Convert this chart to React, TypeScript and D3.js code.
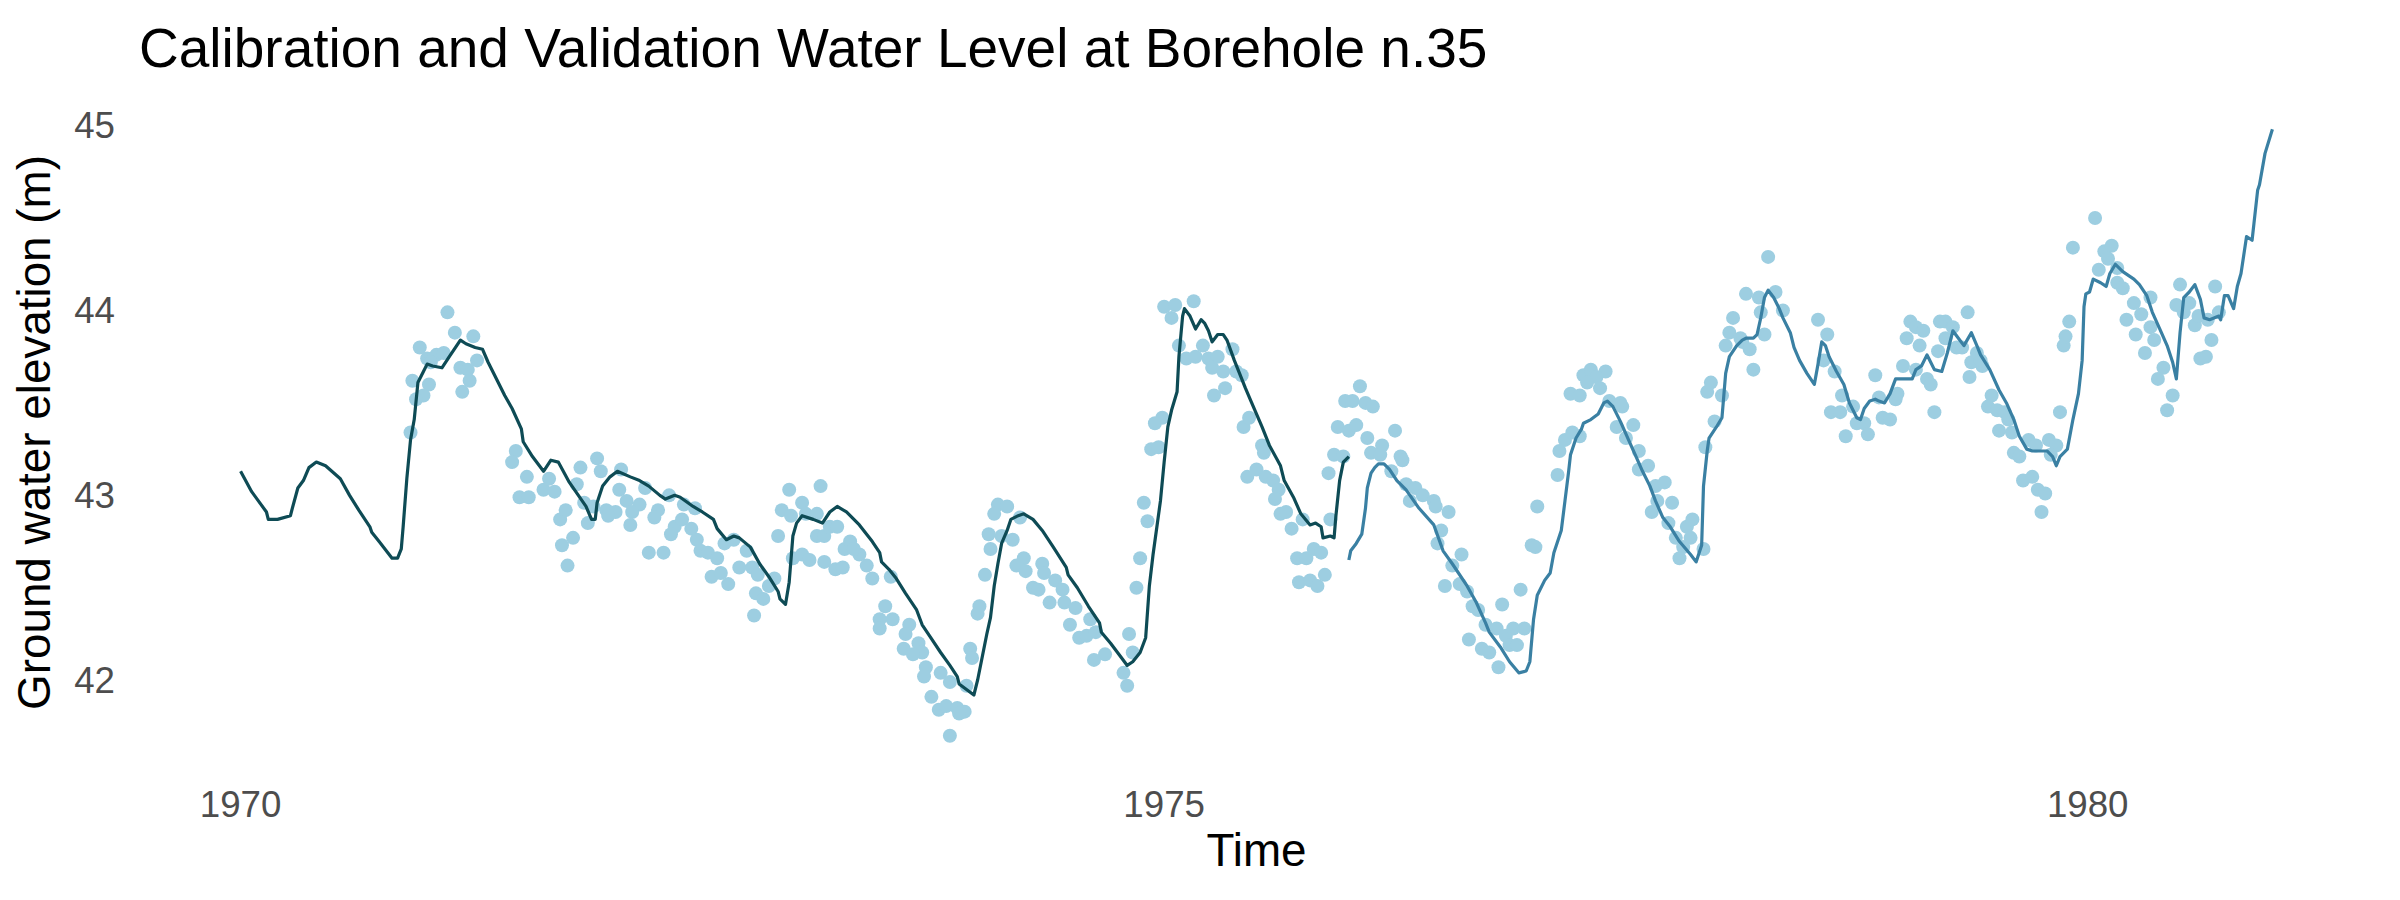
import { useEffect, useRef } from "react";
import * as d3 from "d3";

const WIDTH = 2400;
const HEIGHT = 900;

const TITLE = "Calibration and Validation Water Level at Borehole n.35";
const X_LABEL = "Time";
const Y_LABEL = "Ground water elevation (m)";
const X_TICKS = [1970, 1975, 1980];
const Y_TICKS = [42, 43, 44, 45];

// [decimal year, ground water elevation (m)]
const calibration: [number, number][] = [
	[1970.0, 43.13], [1970.06, 43.02], [1970.14, 42.91], [1970.15, 42.87], [1970.2, 42.87],
	[1970.27, 42.89], [1970.28, 42.93], [1970.31, 43.04], [1970.34, 43.08], [1970.37, 43.15],
	[1970.41, 43.18], [1970.46, 43.16], [1970.54, 43.09], [1970.59, 43.0], [1970.64, 42.92],
	[1970.7, 42.83], [1970.71, 42.8], [1970.75, 42.75], [1970.82, 42.66], [1970.85, 42.66],
	[1970.87, 42.71], [1970.88, 42.83], [1970.9, 43.09], [1970.92, 43.3], [1970.94, 43.41],
	[1970.96, 43.61], [1970.99, 43.67], [1971.01, 43.71], [1971.04, 43.7], [1971.09, 43.69],
	[1971.13, 43.75], [1971.17, 43.81], [1971.19, 43.84], [1971.22, 43.82], [1971.27, 43.8],
	[1971.31, 43.79], [1971.34, 43.72], [1971.38, 43.64], [1971.43, 43.54], [1971.47, 43.47],
	[1971.52, 43.36], [1971.53, 43.29], [1971.58, 43.21], [1971.64, 43.13], [1971.68, 43.19],
	[1971.72, 43.18], [1971.78, 43.07], [1971.87, 42.94], [1971.9, 42.87], [1971.92, 42.87],
	[1971.93, 42.96], [1971.96, 43.05], [1972.0, 43.1], [1972.04, 43.13], [1972.11, 43.1],
	[1972.16, 43.08], [1972.21, 43.05], [1972.27, 43.0], [1972.3, 42.98], [1972.35, 43.0],
	[1972.38, 42.99], [1972.45, 42.94], [1972.5, 42.91], [1972.56, 42.87], [1972.58, 42.82],
	[1972.63, 42.76], [1972.67, 42.78], [1972.7, 42.77], [1972.76, 42.72], [1972.81, 42.63],
	[1972.86, 42.56], [1972.91, 42.48], [1972.92, 42.44], [1972.95, 42.41], [1972.97, 42.53],
	[1972.99, 42.78], [1973.01, 42.85], [1973.04, 42.89], [1973.1, 42.87], [1973.15, 42.85],
	[1973.19, 42.91], [1973.23, 42.94], [1973.28, 42.91], [1973.35, 42.84], [1973.42, 42.75],
	[1973.46, 42.69], [1973.47, 42.64], [1973.51, 42.6], [1973.55, 42.55], [1973.6, 42.47],
	[1973.66, 42.38], [1973.69, 42.3], [1973.73, 42.24], [1973.79, 42.15], [1973.84, 42.08],
	[1973.88, 42.02], [1973.89, 41.98], [1973.93, 41.95], [1973.97, 41.92], [1973.99, 42.0],
	[1974.01, 42.1], [1974.04, 42.25], [1974.06, 42.34], [1974.08, 42.51], [1974.1, 42.63],
	[1974.12, 42.74], [1974.15, 42.81], [1974.17, 42.87], [1974.21, 42.89], [1974.24, 42.9],
	[1974.29, 42.87], [1974.34, 42.81], [1974.4, 42.72], [1974.47, 42.61], [1974.48, 42.57],
	[1974.53, 42.5], [1974.59, 42.4], [1974.65, 42.31], [1974.66, 42.26], [1974.71, 42.2],
	[1974.77, 42.12], [1974.8, 42.08], [1974.83, 42.1], [1974.87, 42.15], [1974.9, 42.23],
	[1974.92, 42.51], [1974.94, 42.68], [1974.98, 42.97], [1975.0, 43.18], [1975.02, 43.37],
	[1975.04, 43.46], [1975.07, 43.56], [1975.08, 43.75], [1975.1, 43.97], [1975.11, 44.01],
	[1975.14, 43.97], [1975.17, 43.9], [1975.2, 43.95], [1975.22, 43.93], [1975.24, 43.89],
	[1975.26, 43.83], [1975.29, 43.87], [1975.32, 43.87], [1975.34, 43.84], [1975.38, 43.73],
	[1975.44, 43.58], [1975.47, 43.51], [1975.53, 43.37], [1975.57, 43.27], [1975.63, 43.16],
	[1975.65, 43.08], [1975.7, 42.99], [1975.74, 42.9], [1975.79, 42.84], [1975.82, 42.85],
	[1975.85, 42.83], [1975.86, 42.77], [1975.9, 42.78], [1975.92, 42.77], [1975.93, 42.89],
	[1975.95, 43.08], [1975.97, 43.18], [1976.0, 43.21],
];

const validation: [number, number][] = [
	[1976.0, 42.65], [1976.01, 42.7], [1976.04, 42.74], [1976.07, 42.79], [1976.09, 42.93],
	[1976.1, 43.04], [1976.12, 43.12], [1976.14, 43.15], [1976.16, 43.17], [1976.19, 43.17],
	[1976.22, 43.14], [1976.26, 43.08], [1976.31, 43.03], [1976.38, 42.93], [1976.46, 42.84],
	[1976.51, 42.7], [1976.56, 42.63], [1976.64, 42.51], [1976.69, 42.42], [1976.74, 42.31],
	[1976.76, 42.26], [1976.82, 42.18], [1976.87, 42.1], [1976.92, 42.04], [1976.96, 42.05],
	[1976.98, 42.1], [1977.0, 42.33], [1977.02, 42.46], [1977.06, 42.54], [1977.09, 42.58],
	[1977.11, 42.69], [1977.15, 42.81], [1977.17, 42.97], [1977.19, 43.13], [1977.2, 43.22],
	[1977.23, 43.31], [1977.26, 43.36], [1977.27, 43.39], [1977.31, 43.41], [1977.35, 43.44],
	[1977.38, 43.5], [1977.4, 43.51], [1977.43, 43.48], [1977.47, 43.4], [1977.51, 43.31],
	[1977.55, 43.22], [1977.59, 43.13], [1977.63, 43.05], [1977.66, 42.97], [1977.7, 42.88],
	[1977.74, 42.83], [1977.79, 42.75], [1977.85, 42.68], [1977.88, 42.64], [1977.91, 42.73],
	[1977.92, 43.05], [1977.94, 43.24], [1977.95, 43.31], [1977.99, 43.37], [1978.02, 43.42],
	[1978.03, 43.54], [1978.04, 43.66], [1978.06, 43.75], [1978.1, 43.81], [1978.13, 43.84],
	[1978.15, 43.85], [1978.19, 43.85], [1978.21, 43.87], [1978.23, 43.96], [1978.25, 44.07],
	[1978.27, 44.11], [1978.3, 44.07], [1978.33, 44.01], [1978.35, 43.96], [1978.39, 43.88],
	[1978.41, 43.8], [1978.44, 43.73], [1978.48, 43.66], [1978.5, 43.63], [1978.52, 43.6],
	[1978.54, 43.71], [1978.56, 43.83], [1978.58, 43.81], [1978.6, 43.75], [1978.64, 43.67],
	[1978.68, 43.6], [1978.71, 43.5], [1978.75, 43.42], [1978.77, 43.41], [1978.79, 43.47],
	[1978.82, 43.51], [1978.85, 43.52], [1978.87, 43.51], [1978.9, 43.5], [1978.93, 43.55],
	[1978.96, 43.63], [1979.05, 43.63], [1979.07, 43.68], [1979.1, 43.7], [1979.13, 43.76],
	[1979.14, 43.74], [1979.17, 43.68], [1979.21, 43.67], [1979.24, 43.77], [1979.27, 43.89],
	[1979.3, 43.85], [1979.33, 43.81], [1979.37, 43.88], [1979.4, 43.81], [1979.42, 43.76],
	[1979.47, 43.68], [1979.52, 43.57], [1979.56, 43.5], [1979.6, 43.41], [1979.63, 43.32],
	[1979.67, 43.25], [1979.7, 43.24], [1979.78, 43.24], [1979.81, 43.21], [1979.83, 43.16],
	[1979.85, 43.21], [1979.89, 43.25], [1979.92, 43.41], [1979.95, 43.55], [1979.97, 43.73],
	[1979.98, 44.02], [1979.99, 44.09], [1980.01, 44.1], [1980.03, 44.17], [1980.07, 44.15],
	[1980.1, 44.13], [1980.12, 44.2], [1980.15, 44.25], [1980.19, 44.21], [1980.25, 44.17],
	[1980.28, 44.14], [1980.32, 44.08], [1980.35, 43.99], [1980.39, 43.9], [1980.43, 43.81],
	[1980.46, 43.72], [1980.48, 43.63], [1980.5, 43.88], [1980.52, 44.07], [1980.55, 44.1],
	[1980.58, 44.14], [1980.61, 44.06], [1980.63, 43.96], [1980.66, 43.95], [1980.71, 43.97],
	[1980.72, 43.95], [1980.74, 44.08], [1980.76, 44.08], [1980.79, 44.01], [1980.81, 44.13],
	[1980.83, 44.2], [1980.86, 44.4], [1980.89, 44.38], [1980.9, 44.47], [1980.92, 44.65],
	[1980.93, 44.68], [1980.96, 44.85], [1981.0, 44.98],
];

const observed: [number, number][] = [
	// 1970-1971
	[1971.12, 43.99], [1971.16, 43.88], [1971.26, 43.86], [1970.97, 43.8], [1971.01, 43.74],
	[1971.06, 43.76], [1971.1, 43.77], [1971.03, 43.72], [1971.28, 43.73], [1971.19, 43.69],
	[1971.23, 43.68], [1971.24, 43.62], [1971.2, 43.56], [1970.93, 43.62], [1971.02, 43.6],
	[1970.99, 43.54], [1970.95, 43.52], [1970.92, 43.34], [1971.49, 43.24], [1971.47, 43.18],
	[1971.55, 43.1], [1971.51, 42.99], [1971.56, 42.99], [1971.64, 43.03], [1971.7, 43.02],
	[1971.67, 43.09], [1971.73, 42.87], [1971.76, 42.92], [1971.74, 42.73], [1971.77, 42.62],
	// 1972-1973
	[1971.8, 42.77], [1971.84, 43.15], [1971.82, 43.06], [1971.93, 43.2], [1971.95, 43.13],
	[1971.86, 42.96], [1971.88, 42.85], [1971.91, 42.94], [1971.98, 42.92], [1972.03, 42.91],
	[1971.99, 42.89], [1972.06, 43.14], [1972.05, 43.03], [1972.09, 42.97], [1972.16, 42.95],
	[1972.12, 42.91], [1972.11, 42.84], [1972.19, 43.04], [1972.26, 42.92], [1972.24, 42.88],
	[1972.21, 42.69], [1972.29, 42.69], [1972.32, 43.0], [1972.35, 42.83], [1972.33, 42.79],
	[1972.39, 42.87], [1972.4, 42.95], [1972.46, 42.93], [1972.44, 42.82], [1972.47, 42.76],
	[1972.49, 42.7], [1972.53, 42.69], [1972.58, 42.66], [1972.55, 42.56], [1972.6, 42.58],
	[1972.64, 42.52], [1972.62, 42.74], [1972.67, 42.76], [1972.7, 42.61], [1972.77, 42.61],
	[1972.74, 42.7], [1972.8, 42.57], [1972.79, 42.47], [1972.83, 42.44], [1972.78, 42.35],
	[1972.89, 42.55], [1972.86, 42.51], [1972.93, 42.92], [1972.97, 43.03], [1973.04, 42.96],
	[1973.14, 43.05], [1972.91, 42.78], [1972.98, 42.89], [1973.06, 42.9], [1973.12, 42.9],
	[1972.99, 42.66], [1973.04, 42.68], [1973.08, 42.65], [1973.12, 42.78], [1973.16, 42.78],
	[1973.19, 42.83], [1973.23, 42.83], [1973.16, 42.64], [1973.22, 42.6], [1973.26, 42.61],
	[1973.27, 42.71], [1973.3, 42.75], [1973.35, 42.68], [1973.32, 42.71], [1973.39, 42.62],
	[1973.42, 42.55], [1973.52, 42.56], [1973.49, 42.4], [1973.46, 42.33], [1973.53, 42.33],
	[1973.46, 42.28],
	// 1973-1975
	[1975.0, 44.02], [1975.06, 44.03], [1975.04, 43.96], [1975.16, 44.05], [1975.08, 43.81],
	[1975.12, 43.74], [1975.21, 43.81], [1975.17, 43.75], [1975.24, 43.74], [1975.29, 43.75],
	[1975.26, 43.69], [1975.32, 43.67], [1975.27, 43.54], [1975.33, 43.58], [1974.99, 43.42],
	[1974.95, 43.39], [1974.93, 43.25], [1974.97, 43.26], [1974.89, 42.96], [1974.91, 42.86],
	[1974.87, 42.66], [1974.85, 42.5], [1974.81, 42.25], [1974.83, 42.15], [1974.78, 42.04],
	[1974.8, 41.97], [1974.1, 42.95], [1974.15, 42.94], [1974.08, 42.9], [1974.05, 42.79],
	[1974.12, 42.78], [1974.06, 42.71], [1974.18, 42.76], [1974.22, 42.88], [1974.03, 42.57],
	[1974.0, 42.4], [1973.99, 42.36], [1973.95, 42.17], [1973.96, 42.12], [1973.93, 41.97],
	[1974.24, 42.66], [1974.2, 42.62], [1974.25, 42.59], [1974.34, 42.63], [1974.35, 42.58],
	[1974.41, 42.54], [1974.29, 42.5], [1974.32, 42.49], [1974.38, 42.42], [1974.45, 42.49],
	[1974.46, 42.42], [1974.52, 42.39], [1974.49, 42.3], [1974.54, 42.23], [1974.58, 42.24],
	[1974.6, 42.33], [1974.63, 42.26], [1974.68, 42.14], [1974.62, 42.11], [1973.62, 42.3],
	[1973.6, 42.25], [1973.59, 42.17], [1973.67, 42.2], [1973.69, 42.15], [1973.64, 42.14],
	[1973.71, 42.07], [1973.7, 42.02], [1973.79, 42.04], [1973.84, 41.99], [1973.74, 41.91],
	[1973.78, 41.84], [1973.82, 41.86], [1973.88, 41.85], [1973.92, 41.83], [1973.89, 41.82],
	[1973.84, 41.7],
	// 1975-1977
	[1975.37, 43.79], [1975.39, 43.67], [1975.42, 43.65], [1975.43, 43.37], [1975.46, 43.42],
	[1975.45, 43.1], [1975.5, 43.14], [1975.53, 43.27], [1975.54, 43.23], [1975.55, 43.1],
	[1975.59, 43.08], [1975.62, 43.03], [1975.6, 42.98], [1975.63, 42.9], [1975.66, 42.91],
	[1975.69, 42.82], [1975.75, 42.87], [1975.72, 42.66], [1975.77, 42.66], [1975.81, 42.71],
	[1975.85, 42.69], [1975.73, 42.53], [1975.79, 42.54], [1975.83, 42.51], [1975.87, 42.57],
	[1975.89, 43.12], [1975.92, 43.22], [1975.97, 43.21], [1975.9, 42.87], [1975.94, 43.37],
	[1976.0, 43.35], [1976.04, 43.38], [1975.98, 43.51], [1976.02, 43.51], [1976.06, 43.59],
	[1976.09, 43.5], [1976.13, 43.48], [1976.1, 43.31], [1976.12, 43.23], [1976.18, 43.27],
	[1976.17, 43.22], [1976.25, 43.35], [1976.28, 43.21], [1976.29, 43.19], [1976.23, 43.13],
	[1976.31, 43.06], [1976.36, 43.04], [1976.33, 42.97], [1976.4, 43.0], [1976.46, 42.97],
	[1976.47, 42.94], [1976.54, 42.91], [1976.5, 42.81], [1976.48, 42.74], [1976.61, 42.68],
	[1976.56, 42.62], [1976.52, 42.51], [1976.6, 42.52], [1976.64, 42.48], [1976.67, 42.4],
	[1976.7, 42.38], [1976.65, 42.22], [1976.72, 42.17], [1976.76, 42.15], [1976.74, 42.3],
	[1976.8, 42.28], [1976.83, 42.41], [1976.85, 42.24], [1976.89, 42.28], [1976.87, 42.19],
	[1976.91, 42.19], [1976.95, 42.28], [1976.93, 42.49], [1976.81, 42.07], [1976.99, 42.73],
	[1977.02, 42.94], [1977.01, 42.72], [1977.14, 43.24], [1977.13, 43.11],
	// 1977-1979
	[1977.17, 43.3], [1977.21, 43.34], [1977.25, 43.32], [1977.2, 43.55], [1977.25, 43.54],
	[1977.27, 43.65], [1977.31, 43.68], [1977.39, 43.67], [1977.34, 43.64], [1977.29, 43.61],
	[1977.36, 43.58], [1977.41, 43.51], [1977.47, 43.5], [1977.48, 43.48], [1977.45, 43.37],
	[1977.5, 43.31], [1977.54, 43.38], [1977.57, 43.24], [1977.57, 43.14], [1977.62, 43.16],
	[1977.66, 43.05], [1977.71, 43.07], [1977.67, 42.97], [1977.64, 42.91], [1977.75, 42.96],
	[1977.73, 42.85], [1977.77, 42.77], [1977.83, 42.83], [1977.86, 42.87], [1977.85, 42.77],
	[1977.81, 42.72], [1977.79, 42.66], [1977.92, 42.71], [1977.93, 43.26], [1977.94, 43.56],
	[1977.96, 43.61], [1978.02, 43.54], [1977.98, 43.4], [1978.04, 43.81], [1978.06, 43.88],
	[1978.08, 43.96], [1978.12, 43.85], [1978.13, 43.83], [1978.17, 43.79], [1978.19, 43.68],
	[1978.15, 44.09], [1978.22, 44.07], [1978.23, 43.99], [1978.25, 43.87], [1978.27, 44.29],
	[1978.31, 44.1], [1978.35, 44.0], [1978.54, 43.95], [1978.59, 43.87], [1978.57, 43.73],
	[1978.63, 43.67], [1978.67, 43.54], [1978.61, 43.45], [1978.66, 43.45], [1978.69, 43.32],
	[1978.73, 43.48], [1978.75, 43.39], [1978.79, 43.39], [1978.81, 43.33], [1978.85, 43.65],
	[1978.87, 43.53], [1978.89, 43.42],
	// 1979-1981
	[1978.93, 43.41], [1978.96, 43.52], [1978.97, 43.55], [1979.0, 43.7], [1979.02, 43.85],
	[1979.04, 43.94], [1979.07, 43.91], [1979.11, 43.89], [1979.09, 43.81], [1979.07, 43.68],
	[1979.13, 43.63], [1979.15, 43.6], [1979.17, 43.45], [1979.2, 43.94], [1979.23, 43.94],
	[1979.27, 43.91], [1979.19, 43.78], [1979.23, 43.85], [1979.29, 43.8], [1979.32, 43.8],
	[1979.35, 43.99], [1979.37, 43.72], [1979.36, 43.64], [1979.43, 43.7], [1979.42, 43.73],
	[1979.4, 43.77], [1979.48, 43.54], [1979.46, 43.48], [1979.51, 43.46], [1979.55, 43.45],
	[1979.57, 43.41], [1979.52, 43.35], [1979.59, 43.34], [1979.6, 43.23], [1979.63, 43.21],
	[1979.68, 43.3], [1979.72, 43.27], [1979.65, 43.08], [1979.7, 43.1], [1979.73, 43.03],
	[1979.77, 43.01], [1979.75, 42.91], [1979.79, 43.3], [1979.83, 43.27], [1979.8, 43.22],
	[1979.85, 43.45], [1979.87, 43.81], [1979.88, 43.86], [1979.9, 43.94], [1979.92, 44.34],
	[1980.04, 44.5], [1980.09, 44.32], [1980.13, 44.35], [1980.11, 44.28], [1980.06, 44.22],
	[1980.16, 44.23], [1980.16, 44.15], [1980.19, 44.12], [1980.21, 43.95], [1980.25, 44.04],
	[1980.26, 43.87], [1980.29, 43.98], [1980.34, 44.07], [1980.34, 43.91], [1980.36, 43.84],
	[1980.31, 43.77], [1980.41, 43.69], [1980.38, 43.63], [1980.46, 43.54], [1980.43, 43.46],
	[1980.48, 44.03], [1980.5, 44.14], [1980.52, 43.99], [1980.55, 44.04], [1980.58, 43.92],
	[1980.6, 43.97], [1980.65, 43.95], [1980.67, 43.84], [1980.61, 43.74], [1980.64, 43.75],
	[1980.69, 44.13], [1980.71, 43.99],
];

const App = () => {
	const svgRef = useRef<SVGSVGElement>(null);

	useEffect(() => {
		document.body.style.margin = "0";

		const margin = {top: 99, right: 26, bottom: 134, left: 139};
		const font = "'Liberation Sans', Arial, sans-serif";

		const all = [...calibration, ...validation, ...observed];
		const [xMin, xMax] = d3.extent(all, (d) => d[0]) as [number, number];
		const [yMin, yMax] = d3.extent(all, (d) => d[1]) as [number, number];
		// ggplot-style 5% expansion
		const xPad = (xMax - xMin) * 0.05;
		const yPad = (yMax - yMin) * 0.05;

		const x = d3
			.scaleLinear()
			.domain([xMin - xPad, xMax + xPad])
			.range([margin.left, WIDTH - margin.right]);
		const y = d3
			.scaleLinear()
			.domain([yMin - yPad, yMax + yPad])
			.range([HEIGHT - margin.bottom, margin.top]);

		const svg = d3.select(svgRef.current);
		svg.selectAll("*").remove();

		svg.append("rect").attr("width", WIDTH).attr("height", HEIGHT).attr("fill", "#ffffff");

		// observations
		svg.append("g")
			.selectAll("circle")
			.data(observed)
			.join("circle")
			.attr("cx", (d) => x(d[0]))
			.attr("cy", (d) => y(d[1]))
			.attr("r", 7)
			.attr("fill", "#9dcee1");

		const line = d3
			.line<[number, number]>()
			.x((d) => x(d[0]))
			.y((d) => y(d[1]));

		svg.append("path")
			.datum(calibration)
			.attr("d", line)
			.attr("fill", "none")
			.attr("stroke", "#0e4b55")
			.attr("stroke-width", 3.2)
			.attr("stroke-linejoin", "round");

		svg.append("path")
			.datum(validation)
			.attr("d", line)
			.attr("fill", "none")
			.attr("stroke", "#3a80a3")
			.attr("stroke-width", 3.2)
			.attr("stroke-linejoin", "round");

		// tick labels
		svg.append("g")
			.selectAll("text")
			.data(X_TICKS)
			.join("text")
			.attr("x", (d) => x(d))
			.attr("y", 817)
			.attr("text-anchor", "middle")
			.attr("fill", "#4d4d4d")
			.style("font-family", font)
			.style("font-size", "36.7px")
			.text((d) => d);

		svg.append("g")
			.selectAll("text")
			.data(Y_TICKS)
			.join("text")
			.attr("x", margin.left - 24)
			.attr("y", (d) => y(d))
			.attr("dy", "0.35em")
			.attr("text-anchor", "end")
			.attr("fill", "#4d4d4d")
			.style("font-family", font)
			.style("font-size", "36.7px")
			.text((d) => d);

		// titles
		svg.append("text")
			.attr("x", margin.left)
			.attr("y", 67)
			.attr("fill", "#000000")
			.style("font-family", font)
			.style("font-size", "55px")
			.text(TITLE);

		svg.append("text")
			.attr("x", (margin.left + WIDTH - margin.right) / 2)
			.attr("y", 866)
			.attr("text-anchor", "middle")
			.attr("fill", "#000000")
			.style("font-family", font)
			.style("font-size", "45.8px")
			.text(X_LABEL);

		svg.append("text")
			.attr("transform", `translate(50,${(margin.top + HEIGHT - margin.bottom) / 2}) rotate(-90)`)
			.attr("text-anchor", "middle")
			.attr("fill", "#000000")
			.style("font-family", font)
			.style("font-size", "45.8px")
			.text(Y_LABEL);
	}, []);

	return <svg ref={svgRef} width={WIDTH} height={HEIGHT} style={{display: "block"}}></svg>;
};

export default App;
